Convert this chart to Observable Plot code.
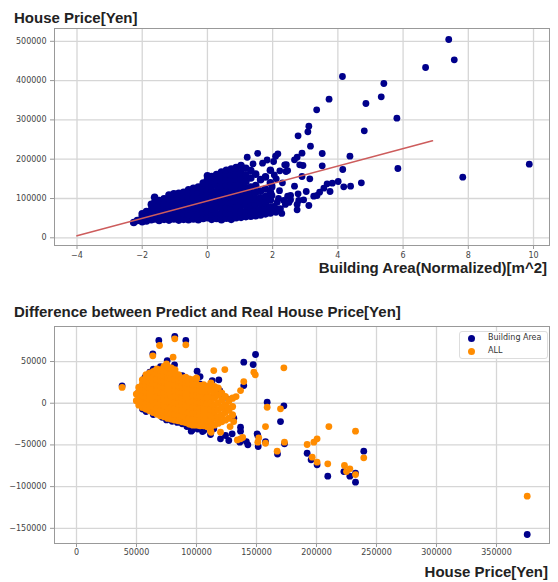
<!DOCTYPE html>
<html><head><meta charset="utf-8">
<script src="https://cdn.jsdelivr.net/npm/d3@7"></script>
<script src="https://cdn.jsdelivr.net/npm/@observablehq/plot@0.6"></script>
<style>
body{margin:0;background:#fff;}
#wrap{position:relative;width:558px;height:582px;overflow:hidden;font-family:"Liberation Sans",Arial,sans-serif;}
.t{position:absolute;font-weight:bold;font-size:15px;line-height:15px;color:#222;white-space:nowrap;}
#wrap svg{position:absolute;left:0;}
.legend{position:absolute;left:459px;top:331px;width:87px;height:26px;border:1px solid #ddd;border-radius:3px;background:rgba(255,255,255,0.85);font-family:"DejaVu Sans",sans-serif;font-size:8px;color:#333;}
.legend .dot{position:absolute;width:7px;height:7px;border-radius:50%;left:8px;}
.legend .lab{position:absolute;left:28px;line-height:10px;}
</style></head><body>
<div id="wrap">
  <div class="t" style="left:14px;top:10px;">House Price[Yen]</div>
  <div class="t" style="right:11px;top:260px;">Building Area(Normalized)[m^2]</div>
  <div class="t" style="left:14px;top:304px;">Difference between Predict and Real House Price[Yen]</div>
  <div class="t" style="right:10px;top:564px;">House Price[Yen]</div>
</div>
<script>
// ---------- top chart data (x: normalized building area, y: price in thousands of yen)
const areaTicks = [-4, -2, 0, 2, 4, 6, 8, 10];
const priceTicks = [0, 100000, 200000, 300000, 400000, 500000];
const regressionLine = [[-4, 5], [6.9, 246.8]];
const blobColumns = [
  [-2.26,[39]],
  [-2.15,[44]],
  [-2.0,[41,53,61]],
  [-1.87,[43,56,67]],
  [-1.72,[46,58,71,85]],
  [-1.62,[48,61,76,90,103]],
  [-1.48,[44,57,70,83,95]],
  [-1.33,[47,59,73,87,99]],
  [-1.18,[45,58,71,85,98,109]],
  [-1.03,[48,61,75,89,101,112]],
  [-0.88,[45,57,72,86,100,113]],
  [-0.73,[47,61,74,88,103,116]],
  [-0.58,[46,59,73,87,101,114,122]],
  [-0.43,[48,62,76,90,104,117,126]],
  [-0.28,[46,60,74,89,102,116,129]],
  [-0.13,[49,62,76,91,105,119,131,139]],
  [0.0,[51,64,78,93,107,121,135,148,158]],
  [0.13,[47,60,74,88,102,117,131,145,156]],
  [0.28,[49,62,77,91,104,118,133,147,161]],
  [0.43,[46,60,75,89,102,116,130,144,157,167]],
  [0.58,[50,63,77,92,106,119,133,148,162,172]],
  [0.73,[47,61,75,89,104,118,132,146,160,175]],
  [0.88,[51,64,79,93,107,121,135,149,163,179]],
  [1.03,[52,66,81,95,109,123,137,151,166,184]],
  [1.18,[54,67,82,96,110,126,143,159,177]],
  [1.33,[55,69,84,98,113,129,152,171]],
  [1.48,[56,71,85,99,115,133,162]],
  [1.63,[58,72,87,102,119,148]],
  [1.78,[61,75,89,105,124,155]],
  [1.93,[63,78,96,116,140,172]]
];
const areaScatter = [
  [7.40,504.6],[7.57,453],[6.69,433.3],[4.14,410.4],[5.41,392.6],[5.33,358.8],[3.73,352.7],[4.86,341.7],
  [3.35,325.7],[5.81,304.3],[3.11,284],[3.08,269.7],[2.78,259.5],[4.81,272.3],[9.87,187.3],[7.83,154.2],
  [5.84,176.3],[4.37,207.6],[4.15,173.8],[4.72,139.9],[4.39,131.3],[4.18,129.7],[4.01,143.3],[3.83,139],
  [3.67,137.4],[3.76,117.8],[3.52,214.5],[3.52,183.2],[3.16,233.1],[2.90,215.3],[2.75,205.1],[2.67,198.5],
  [2.83,185.7],[2.93,184],[2.90,156],[3.14,150.1],[2.67,131.3],[2.78,112],[3.03,117.8],[2.95,96.7],
  [3.11,82.2],[2.75,84.7],[2.75,71.2],[3.26,105.9],[3.44,116],[3.36,107.6],[3.57,126.2],[2.37,185.7],
  [2.41,168.7],[2.22,170.5],[2.34,94.9],[2.46,105.9],[2.55,107.6],[2.16,213.7],[2.09,207.6],[2.03,194.1],
  [2.11,150.1],[2.14,90.6],[2.09,75.3],[2.03,79.6],[1.98,107.6],[1.98,128.8],[1.22,205],[1.54,215],
  [1.40,188],[1.69,190],[1.83,198],[2.42,186],[2.46,171],[2.55,97],[2.80,95],[1.98,133],[2.24,74],
  [2.39,85],[2.50,90],[2.21,120],[2.30,140],[2.05,160],[2.18,100],[2.10,65],[2.28,62]
];

// ---------- bottom chart data (x: house price, y: predict - real; thousands of yen)
const housePriceTicks = [0, 50000, 100000, 150000, 200000, 250000, 300000, 350000];
const diffTicks = [-150000, -100000, -50000, 0, 50000];
const allBlobColumns = [
  [50,[3,11]],
  [52,[-2,5,13,19]],
  [55,[-5,2,9,16,23,28]],
  [58,[-7,0,7,14,21,28,34]],
  [61,[-9,-2,5,12,19,26,32,36]],
  [64,[-11,-4,3,10,17,24,31,38]],
  [67,[-13,-6,1,8,15,22,29,36,41]],
  [70,[-15,-8,-1,6,13,20,27,34,40]],
  [73,[-16,-9,-2,5,12,19,26,33,40,44]],
  [76,[-18,-11,-4,3,10,17,24,31,38,43]],
  [79,[-19,-12,-5,2,9,16,23,30,37,42]],
  [82,[-20,-13,-6,1,8,15,22,29,36,40]],
  [85,[-21,-14,-7,0,7,14,21,28,34]],
  [88,[-22,-15,-8,-1,6,13,20,26,30]],
  [91,[-23,-16,-9,-2,5,12,19,25,31]],
  [94,[-25,-18,-11,-4,3,10,17,24,29]],
  [97,[-26,-19,-12,-5,2,9,16,23,28]],
  [100,[-26,-19,-12,-5,2,9,16,23,30]],
  [103,[-27,-20,-13,-6,1,8,15,21]],
  [106,[-27,-20,-13,-6,1,8,15,22]],
  [109,[-28,-21,-14,-7,0,7,14,20]],
  [112,[-28,-21,-14,-7,0,8,16,24]],
  [115,[-26,-18,-10,-2,6,13,20]],
  [118,[-24,-16,-8,0,10,18]],
  [121,[-22,-14,-5,4,12]],
  [124,[-20,-11,-2,8]],
  [127,[-18,-8,3]],
  [130,[-14,-4,6]]
];
const allScatter = [
  [38,19],[69.2,69.2],[81.9,77.2],[91.1,70],[63.6,56.8],[75.6,45.2],[80.5,55.2],[75,47.2],[114.4,39.2],
  [123.6,40.4],[147.8,37.2],[149,34],[139.4,26],[136.7,15.2],[133,8],[158.9,-4.8],[170,-6.7],[120,-34.8],
  [112.2,-34.8],[111.7,-33.5],[136.7,-42.7],[134,-44],[138.5,-41],[151.9,-41.5],[151.1,-46.7],[157.5,-48],
  [157.5,-28],[125.6,-4.8],[131,-22],[128,-28],[167.2,-57.5],[173.3,-46.7],[192.2,-49.5],[197.8,-46.7],
  [200.5,-42.7],[196.4,-64.7],[200.5,-70.7],[209.4,-72.7],[223.3,-74.7],[227.8,-78.7],[225,-82],
  [232.5,-85.5],[232.5,-33.5],[239.4,-65.5],[172.8,42.4],[210.3,-28],[375.6,-111.5]
];
const buildingAreaDiff = [
  [38,20.9],[68.6,75.2],[81.9,80],[91.1,75.2],[63.6,59.2],[75.6,51.2],[70,44],[61.1,37.2],[64,41],[57,31],
  [54.7,17.2],[53.3,7.2],[52,14],[55,-7],[58,-10],[64,-13.5],[71.4,-16.8],[75,-20],[79.7,-21.6],[80.5,-20.8],
  [84,-23],[88.1,-24.7],[92,-28],[95.6,-31.9],[96.4,-32],[101,-31],[106.1,-32.7],[114.4,-30.7],[81.7,46],
  [88.1,33.2],[100.5,38.4],[103,32],[102.7,23.2],[113.1,27.2],[118.6,28],[119.4,15],[121.4,8],[126.9,4.4],
  [131.1,-18],[136.7,-28.8],[95.6,-33.5],[105,-34],[111.7,-37.5],[120,-42.7],[126.9,-44.7],[124.2,-38.7],
  [129.7,-36.7],[136.7,-33.5],[136.1,-46.7],[142.8,-49.9],[141.5,-46],[151.1,-38.7],[151.4,-51.9],[157.5,-46],
  [150.5,-36.7],[149.2,58.4],[139.4,49.2],[147.2,46.4],[139.4,21.2],[158.9,1.2],[172.8,-3.1],[170,-22],
  [167.5,-61],[173.3,-48.7],[192.2,-60],[195.5,-67.9],[200.5,-73.9],[209.4,-87.5],[222.8,-81.9],[227.8,-87.5],
  [232.5,-83.9],[232.5,-94.7],[239.4,-57.5],[375.6,-157.4],[70,10],[90,0],[110,-10]
];
const seriesNames = ["Building Area", "ALL"];
const seriesColors = ["#00008b", "#ff8c00"];

// ---------- helpers
const fmt = d => d < 0 ? "\u2212" + Math.abs(d) : String(d);
const style = {fontFamily: '"DejaVu Sans", sans-serif', fontSize: "8px", color: "#444", background: "transparent", overflow: "visible"};
const gridStroke = "#d6d6d6";

const blobPoints = blobColumns.flatMap(([x, ys]) => ys.map(y => [x, y]));
const allPoints = allBlobColumns.flatMap(([x, ys]) => ys.map(y => [x, y]));

const topChart = Plot.plot({
  width: 558, height: 290, marginTop: 28, marginBottom: 45, marginLeft: 54, marginRight: 9,
  style,
  x: {domain: [-4.69, 10.49]},
  y: {domain: [-19600, 532600]},
  marks: [
    Plot.gridX(areaTicks, {stroke: gridStroke, strokeOpacity: 1, strokeWidth: 1.3}),
    Plot.gridY(priceTicks, {stroke: gridStroke, strokeOpacity: 1, strokeWidth: 1.3}),
    Plot.dot(blobPoints, {x: d => d[0], y: d => d[1] * 1000, r: 3.8, fill: seriesColors[0], stroke: "none"}),
    Plot.dot(areaScatter, {x: d => d[0], y: d => d[1] * 1000, r: 3.4, fill: seriesColors[0], stroke: "none"}),
    Plot.line(regressionLine, {x: d => d[0], y: d => d[1] * 1000, stroke: "#cd5c5c", strokeWidth: 1.6}),
    Plot.frame({stroke: "#999"}),
    Plot.axisX({ticks: areaTicks, tickFormat: fmt, tickSize: 4, tickPadding: 3, label: null, stroke: "#999", fill: "#444"}),
    Plot.axisY({ticks: priceTicks, tickFormat: fmt, tickSize: 4, tickPadding: 4, label: null, stroke: "#999", fill: "#444"})
  ]
});
topChart.style.top = "0px";

const bottomChart = Plot.plot({
  width: 558, height: 292, marginTop: 36, marginBottom: 39, marginLeft: 54, marginRight: 9,
  style,
  x: {domain: [-18333, 394167]},
  y: {domain: [-168200, 92000]},
  marks: [
    Plot.gridX(housePriceTicks, {stroke: gridStroke, strokeOpacity: 1, strokeWidth: 1.3}),
    Plot.gridY(diffTicks, {stroke: gridStroke, strokeOpacity: 1, strokeWidth: 1.3}),
    Plot.dot(buildingAreaDiff, {x: d => d[0] * 1000, y: d => d[1] * 1000, r: 3.4, fill: seriesColors[0], stroke: "none"}),
    Plot.dot(allPoints, {x: d => d[0] * 1000, y: d => d[1] * 1000, r: 3.6, fill: seriesColors[1], stroke: "none"}),
    Plot.dot(allScatter, {x: d => d[0] * 1000, y: d => d[1] * 1000, r: 3.4, fill: seriesColors[1], stroke: "none"}),
    Plot.frame({stroke: "#999"}),
    Plot.axisX({ticks: housePriceTicks, tickFormat: fmt, tickSize: 4, tickPadding: 2, label: null, stroke: "#999", fill: "#444"}),
    Plot.axisY({ticks: diffTicks, tickFormat: fmt, tickSize: 4, tickPadding: 4, label: null, stroke: "#999", fill: "#444"})
  ]
});
bottomChart.style.top = "290px";

const wrap = document.getElementById("wrap");
wrap.insertBefore(bottomChart, wrap.firstChild);
wrap.insertBefore(topChart, wrap.firstChild);

// legend
const legend = document.createElement("div");
legend.className = "legend";
seriesNames.forEach((name, i) => {
  const dot = document.createElement("div");
  dot.className = "dot";
  dot.style.background = seriesColors[i];
  dot.style.top = (3 + i * 13) + "px";
  const lab = document.createElement("div");
  lab.className = "lab";
  lab.style.top = (1 + i * 13) + "px";
  lab.textContent = name;
  legend.appendChild(dot);
  legend.appendChild(lab);
});
wrap.appendChild(legend);
</script>
</body></html>
